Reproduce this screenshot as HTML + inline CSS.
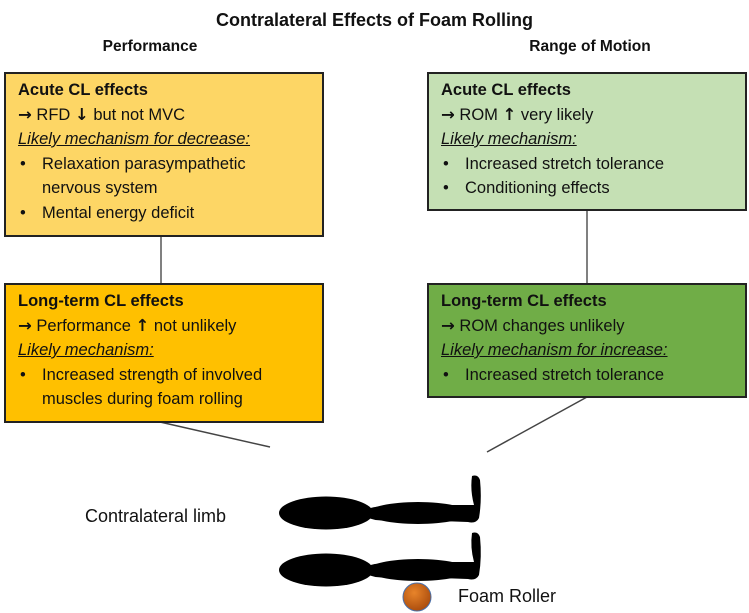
<!DOCTYPE html>
<html><head><meta charset="utf-8"><style>
body{margin:0;width:749px;height:613px;background:#fff;font-family:"Liberation Sans",sans-serif;position:relative;overflow:hidden;color:#111}
.t{position:absolute;white-space:nowrap}
.box{position:absolute;box-sizing:border-box;border:2px solid #222;padding:4px 0 0 12px;font-size:16.5px;line-height:24.5px}
.box b{font-weight:bold}
.box i{text-decoration:underline}
.ar{font-weight:bold;font-family:"DejaVu Sans",sans-serif}
.li{padding-left:24px;position:relative}
.li:before{content:"•";position:absolute;left:2px}
</style></head><body>
<div class="t" style="left:0;width:749px;text-align:center;top:10px;font-size:18px;font-weight:bold">Contralateral Effects of Foam Rolling</div>
<div class="t" style="left:60px;width:180px;text-align:center;top:38px;font-size:15.5px;font-weight:bold">Performance</div>
<div class="t" style="left:500px;width:180px;text-align:center;top:38px;font-size:15.5px;font-weight:bold">Range of Motion</div>

<svg width="749" height="613" style="position:absolute;left:0;top:0">
<line x1="161" y1="236" x2="161" y2="283" stroke="#555" stroke-width="1.5"/>
<line x1="587" y1="210" x2="587" y2="283" stroke="#555" stroke-width="1.5"/>
<line x1="160" y1="422" x2="270" y2="447" stroke="#444" stroke-width="1.5"/>
<line x1="587" y1="397" x2="487" y2="452" stroke="#444" stroke-width="1.5"/>
<g id="leg" fill="#000">
<ellipse cx="326" cy="513" rx="47" ry="16.5"/>
<ellipse cx="418" cy="513" rx="50" ry="11"/>
<path d="M360 513 Q372 505 385 507 L385 520 Q372 522 360 513Z"/>
<path d="M440 505 L474 505 Q470 490 472 476 Q478 474 480 480 Q482 500 479 518 Q476 524 468 522 L440 521Z"/>
</g>
<use href="#leg" transform="translate(0,57)"/>
<defs><radialGradient id="rg" cx="0.4" cy="0.35" r="0.7"><stop offset="0" stop-color="#e8842a"/><stop offset="1" stop-color="#a84a0c"/></radialGradient></defs>
<circle cx="417" cy="597" r="14" fill="url(#rg)" stroke="#4a6fa8" stroke-width="1"/>
</svg>

<div class="box" style="left:4px;top:72px;width:320px;height:165px;background:#fdd665">
<b>Acute CL effects</b><br><span class="ar">→</span> RFD <span class="ar">↓</span> but not MVC<br><i>Likely mechanism for decrease:</i>
<div class="li">Relaxation parasympathetic<br>nervous system</div><div class="li">Mental energy deficit</div></div>

<div class="box" style="left:4px;top:283px;width:320px;height:140px;background:#ffc000">
<b>Long-term CL effects</b><br><span class="ar">→</span> Performance <span class="ar">↑</span> not unlikely<br><i>Likely mechanism:</i>
<div class="li">Increased strength of involved<br>muscles during foam rolling</div></div>

<div class="box" style="left:427px;top:72px;width:320px;height:139px;background:#c5e0b4">
<b>Acute CL effects</b><br><span class="ar">→</span> ROM <span class="ar">↑</span> very likely<br><i>Likely mechanism:</i>
<div class="li">Increased stretch tolerance</div><div class="li">Conditioning effects</div></div>

<div class="box" style="left:427px;top:283px;width:320px;height:115px;background:#70ad47">
<b>Long-term CL effects</b><br><span class="ar">→</span> ROM changes unlikely<br><i>Likely mechanism for increase:</i>
<div class="li">Increased stretch tolerance</div></div>

<div class="t" style="left:85px;top:506px;font-size:18px">Contralateral limb</div>
<div class="t" style="left:458px;top:586px;font-size:18px">Foam Roller</div>
</body></html>
